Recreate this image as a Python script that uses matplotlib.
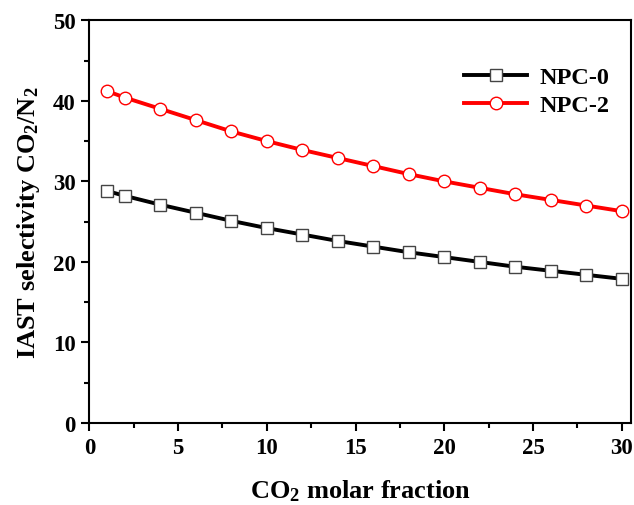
import matplotlib
matplotlib.use("Agg")
import matplotlib.pyplot as plt
from matplotlib.ticker import MultipleLocator

plt.rcParams["font.family"] = ["Liberation Serif", "DejaVu Serif"]
plt.rcParams["font.weight"] = "bold"
plt.rcParams["mathtext.fontset"] = "custom"
plt.rcParams["mathtext.rm"] = "Liberation Serif:bold"
plt.rcParams["mathtext.default"] = "rm"

x = [1, 2, 4, 6, 8, 10, 12, 14, 16, 18, 20, 22, 24, 26, 28, 30]
npc0 = [28.8, 28.2, 27.1, 26.1, 25.1, 24.2, 23.4, 22.6, 21.9, 21.2, 20.6, 20.0, 19.4, 18.9, 18.4, 17.9]
npc2 = [41.2, 40.4, 39.0, 37.6, 36.2, 35.0, 33.9, 32.9, 31.9, 30.9, 30.0, 29.2, 28.4, 27.7, 27.0, 26.3]

fig = plt.figure(figsize=(6.34, 5.06), dpi=100)
ax = fig.add_axes([0.141, 0.162, 0.855, 0.796])

ax.plot(x, npc0, color="black", linewidth=2.8, marker="s", markersize=8,
        markerfacecolor="white", markeredgecolor="#444444", markeredgewidth=1, label="NPC-0")
ax.plot(x, npc2, color="red", linewidth=2.8, marker="o", markersize=9,
        markerfacecolor="white", markeredgecolor="red", markeredgewidth=1, label="NPC-2")

ax.set_xlim(0, 30.55)
ax.set_ylim(0, 50)
ax.xaxis.set_major_locator(MultipleLocator(5))
ax.xaxis.set_minor_locator(MultipleLocator(2.5))
ax.yaxis.set_major_locator(MultipleLocator(10))
ax.yaxis.set_minor_locator(MultipleLocator(5))
ax.tick_params(which="major", direction="out", length=6, width=1.5, labelsize=16.5, pad=4)
ax.tick_params(which="minor", direction="out", length=3.5, width=1.5)
for s in ax.spines.values():
    s.set_linewidth(1.5)

ax.set_xlabel("CO$_2$ molar fraction", fontsize=19, fontweight="bold", labelpad=14)
ax.set_ylabel("IAST selectivity CO$_2$/N$_2$", fontsize=19, fontweight="bold", labelpad=8)

ax.legend(loc="upper right", frameon=False, fontsize=17.5, handlelength=2.6,
          handletextpad=0.5, labelspacing=0.25,
          bbox_to_anchor=(0.977, 0.91), borderaxespad=0.0)

fig.savefig("out.png", dpi=100)
